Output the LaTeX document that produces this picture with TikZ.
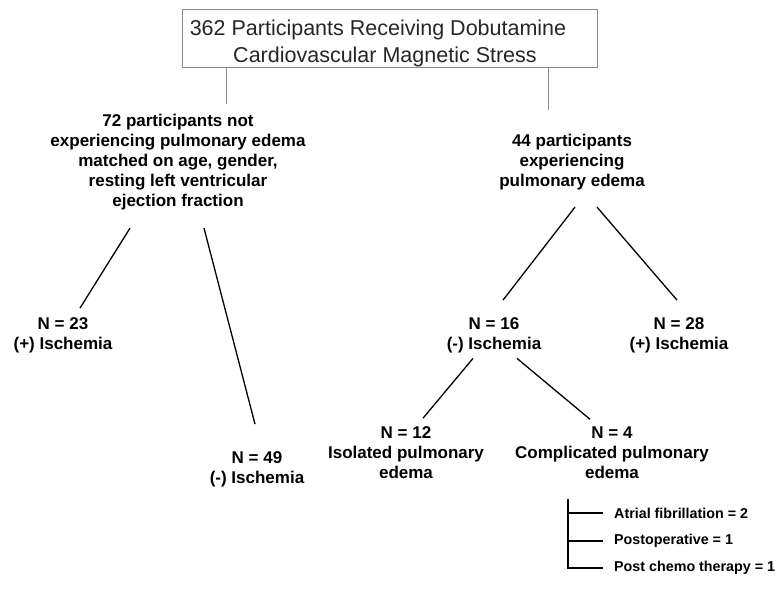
\documentclass[tikz,border=0pt]{standalone}
\usepackage{fontspec}
\setmainfont{Liberation Sans}
\usetikzlibrary{calc}

\begin{document}
\begin{tikzpicture}[x=1pt, y=-1pt,
    link/.style={line width=1.3pt},
    stem/.style={black!45, line width=0.9pt},
    lbl/.style={align=center, inner sep=0pt, font=\fontsize{17}{20}\selectfont\bfseries},
    note/.style={anchor=west, inner sep=0pt, font=\fontsize{14.3}{17}\selectfont\bfseries}]
    \useasboundingbox (0,0) rectangle (778,589);

    % title box
    \node[draw=black!45, line width=0.9pt, minimum width=415pt, minimum height=58pt, inner sep=0pt] (title) at (389.5,38) {};
    \node[align=center, inner sep=0pt, text=black!85, font=\fontsize{21.5}{27}\selectfont] (titletxt) at (381.5,43)
        {362 Participants Receiving Dobutamine\hspace*{7pt}\\\hspace*{7pt}Cardiovascular Magnetic Stress};
    \draw[stem] ([xshift=-163.5pt]title.south) -- ++(0,37);
    \draw[stem] ([xshift=158.5pt]title.south) -- ++(0,43);

    \node[lbl] (nope) at (178,162) {72 participants not\\experiencing pulmonary edema\\matched on age, gender,\\resting left ventricular\\ejection fraction};
    \node[lbl] (pe)   at (572,162) {44 participants\\experiencing\\pulmonary edema};

    \node[lbl] (n23) at (63,335)  {N = 23\\(+) Ischemia};
    \node[lbl] (n49) at (257,469) {N = 49\\(-) Ischemia};
    \node[lbl] (n16) at (494,335) {N = 16\\(-) Ischemia};
    \node[lbl] (n28) at (679,335) {N = 28\\(+) Ischemia};
    \node[lbl] (n12) at (406,453) {N = 12\\Isolated pulmonary\\edema};
    \node[lbl] (n4)  at (612,453) {N = 4\\Complicated pulmonary\\edema};

    \draw[link] ($(nope.south)+(-48,18)$) -- ($(n23.north)+(17,-9)$);
    \draw[link] ($(nope.south)+(26,18)$)  -- ($(n49.north)+(-2,-27)$);
    \draw[link] ($(pe.south)+(3,17)$)     -- ($(n16.north)+(9,-17)$);
    \draw[link] ($(pe.south)+(25,17)$)    -- ($(n28.north)+(-2,-17)$);
    \draw[link] ($(n16.south)+(-21,5.5)$) -- ($(n12.north)+(17,-8.6)$);
    \draw[link] ($(n16.south)+(23,5.5)$)  -- ($(n4.north)+(-22,-7.6)$);

    % complications
    \node[note] (af) at (614,513) {Atrial fibrillation = 2};
    \node[note] (po) at (614,541) {Postoperative = 1};
    \node[note] (pc) at (614,568) {Post chemo therapy = 1};
    \coordinate (bk) at ($(n4.south)+(-44,20)$);
    \foreach \s in {af,po,pc}
        \draw[link] (bk) |- ([xshift=-11pt]\s.west);
\end{tikzpicture}
\end{document}
